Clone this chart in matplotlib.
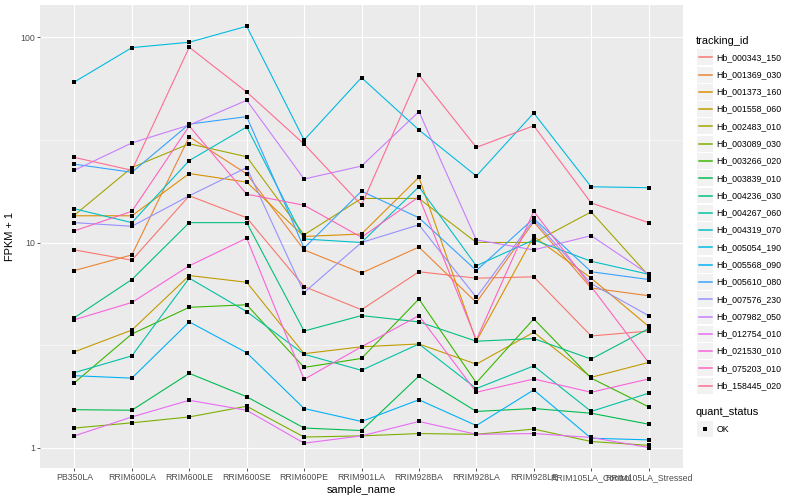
import matplotlib
matplotlib.use("Agg")
import matplotlib.pyplot as plt
from matplotlib.lines import Line2D
from matplotlib.patches import Rectangle
from matplotlib.ticker import NullFormatter
import numpy as np

plt.rcParams['font.family'] = ['Liberation Sans', 'DejaVu Sans']

# samples on the x axis
samples = ["PB350LA", "RRIM600LA", "RRIM600LE", "RRIM600SE", "RRIM600PE", "RRIM901LA",
           "RRIM928BA", "RRIM928LA", "RRIM928LE", "RRIM105LA_Control", "RRIM105LA_Stressed"]

tracking_ids = ["Hb_000343_150", "Hb_001369_030", "Hb_001373_160", "Hb_001558_060",
                "Hb_002483_010", "Hb_003089_030", "Hb_003266_020", "Hb_003839_010",
                "Hb_004236_030", "Hb_004267_060", "Hb_004319_070", "Hb_005054_190",
                "Hb_005568_090", "Hb_005610_080", "Hb_007576_230", "Hb_007982_050",
                "Hb_012754_010", "Hb_021530_010", "Hb_075203_010", "Hb_158445_020"]

# ggplot default hue palette, 20 levels
colors = ["#F8766D", "#EA8331", "#D89000", "#C09B00", "#A3A500", "#7CAE00", "#39B600",
          "#00BB4E", "#00BF7D", "#00C1A3", "#00BFC4", "#00BAE0", "#00B0F6", "#35A2FF",
          "#9590FF", "#C77CFF", "#E76BF3", "#FA62DB", "#FF62BC", "#FF6C91"]

# FPKM + 1 (one value per sample)
hb_000343_150 = [9.2, 8.2, 16.9, 13.2, 6.1, 4.7, 7.2, 6.7, 6.8, 3.5, 3.7]
hb_001369_030 = [7.3, 8.7, 32.8, 21.6, 9.2, 7.1, 9.5, 5.1, 12.6, 6.0, 5.5]
hb_001373_160 = [13.5, 13.5, 21.7, 19.7, 10.7, 11.0, 20.8, 3.3, 10.7, 6.7, 3.9]
hb_001558_060 = [2.93, 3.74, 6.9, 6.4, 2.87, 3.1, 3.2, 2.55, 3.65, 2.2, 2.6]
hb_002483_010 = [13.6, 23.2, 30.3, 26.2, 10.9, 16.4, 16.4, 10.0, 10.0, 14.1, 6.9]
hb_003089_030 = [1.245, 1.32, 1.41, 1.59, 1.125, 1.14, 1.17, 1.16, 1.23, 1.07, 1.025]
hb_003266_020 = [2.07, 3.58, 4.83, 4.97, 2.46, 2.72, 5.3, 2.07, 4.24, 2.18, 1.58]
hb_003839_010 = [1.53, 1.52, 2.30, 1.77, 1.245, 1.21, 2.23, 1.50, 1.55, 1.47, 1.30]
hb_004236_030 = [4.3, 6.6, 12.5, 12.5, 3.7, 4.4, 4.1, 3.3, 3.4, 2.7, 3.8]
hb_004267_060 = [2.32, 2.8, 6.7, 4.6, 2.85, 2.38, 3.2, 1.94, 2.5, 1.5, 1.84]
hb_004319_070 = [14.6, 12.5, 25.1, 36.6, 10.4, 10.0, 18.7, 7.7, 10.3, 8.1, 7.0]
hb_005054_190 = [60.7, 89.2, 94.8, 113.4, 31.6, 63.7, 35.4, 21.1, 42.8, 18.7, 18.5]
hb_005568_090 = [2.24, 2.18, 4.10, 2.90, 1.55, 1.34, 1.71, 1.28, 1.91, 1.11, 1.09]
hb_005610_080 = [24.1, 22.0, 37.8, 41.1, 9.4, 17.8, 13.2, 7.3, 13.1, 7.2, 6.6]
hb_007576_230 = [12.5, 12.0, 16.9, 23.2, 5.7, 10.0, 12.2, 5.4, 12.9, 6.3, 4.4]
hb_007982_050 = [22.5, 30.6, 37.4, 49.4, 20.4, 23.6, 43.5, 10.3, 9.2, 10.8, 7.0]
hb_012754_010 = [1.14, 1.41, 1.70, 1.52, 1.05, 1.14, 1.34, 1.16, 1.17, 1.12, 1.0]
hb_021530_010 = [4.2, 5.1, 7.7, 10.5, 2.15, 3.1, 4.4, 1.86, 2.16, 1.86, 2.16]
hb_075203_010 = [11.4, 14.2, 37.0, 17.2, 15.2, 10.6, 16.7, 3.35, 14.2, 6.1, 2.6]
hb_158445_020 = [26.0, 22.5, 89.6, 54.2, 30.2, 15.2, 65.6, 29.1, 37.1, 15.6, 12.5]

series = [hb_000343_150, hb_001369_030, hb_001373_160, hb_001558_060, hb_002483_010,
          hb_003089_030, hb_003266_020, hb_003839_010, hb_004236_030, hb_004267_060,
          hb_004319_070, hb_005054_190, hb_005568_090, hb_005610_080, hb_007576_230,
          hb_007982_050, hb_012754_010, hb_021530_010, hb_075203_010, hb_158445_020]

W, H = 800, 500
fig = plt.figure(figsize=(W / 72, H / 72), dpi=72)
fig.patch.set_facecolor('white')

# panel in pixel coords: x 40..683, y 5..468
ax = fig.add_axes([40 / W, 1 - 468.3 / H, 643 / W, 463.3 / H])
ax.set_facecolor('#EBEBEB')

x = np.arange(len(samples))
for vals, col in zip(series, colors):
    ax.plot(x, vals, color=col, lw=1.1, zorder=3)
for vals in series:
    ax.plot(x, vals, 's', color='black', ms=3.5, mew=0, zorder=4)

ax.set_yscale('log')
ax.set_xlim(-0.6, 10.6)
ax.set_ylim(0.792, 144.0)
ax.set_yticks([1, 10, 100])
ax.set_yticklabels(['1', '10', '100'])
ax.set_yticks([10 ** 0.5, 10 ** 1.5], minor=True)
ax.yaxis.set_minor_formatter(NullFormatter())
ax.set_xticks(x)
ax.set_xticklabels(samples)
ax.xaxis.set_minor_locator(matplotlib.ticker.NullLocator())

ax.grid(which='major', color='white', lw=1.1)
ax.grid(which='minor', axis='y', color='white', lw=0.55)
ax.set_axisbelow(True)
for s in ax.spines.values():
    s.set_visible(False)

ax.tick_params(which='major', length=2.75, width=0.8, color='#333333',
               labelsize=8.8, labelcolor='#4D4D4D', pad=2.2)
ax.tick_params(which='minor', length=0)

ax.set_xlabel('sample_name', fontsize=11, labelpad=3)
ax.set_ylabel('FPKM + 1', fontsize=11, labelpad=5)

# legend drawn by hand, ggplot style
def fx(px):
    return px / W

def fy(py):
    return 1 - py / H

fig.text(fx(696), fy(40.7), 'tracking_id', fontsize=11, va='center', ha='left')
key_h = 17.28
for i, (tid, col) in enumerate(zip(tracking_ids, colors)):
    cy = 57.3 + i * key_h
    fig.add_artist(Rectangle((fx(697), fy(cy + key_h / 2 - 0.7)), 16 / W, (key_h - 1.4) / H,
                             transform=fig.transFigure, facecolor='#F2F2F2', edgecolor='none',
                             zorder=1))
    fig.add_artist(Line2D([fx(698.5), fx(711.5)], [fy(cy), fy(cy)], transform=fig.transFigure,
                          color=col, lw=1.5, zorder=3))
    fig.text(fx(716.7), fy(cy), tid, fontsize=8.8, va='center', ha='left')

fig.text(fx(696), fy(412.3), 'quant_status', fontsize=11, va='center', ha='left')
ok_y = 429
fig.add_artist(Rectangle((fx(697), fy(ok_y + key_h / 2 - 0.7)), 16 / W, (key_h - 1.4) / H,
                         transform=fig.transFigure, facecolor='#F2F2F2', edgecolor='none',
                         zorder=1))
fig.add_artist(Line2D([fx(705)], [fy(ok_y)], transform=fig.transFigure, marker='s',
                      color='black', ms=3.5, mew=0, linestyle='none', zorder=3))
fig.text(fx(716.7), fy(ok_y), 'OK', fontsize=8.8, va='center', ha='left')

fig.savefig('out.png', dpi=72)
